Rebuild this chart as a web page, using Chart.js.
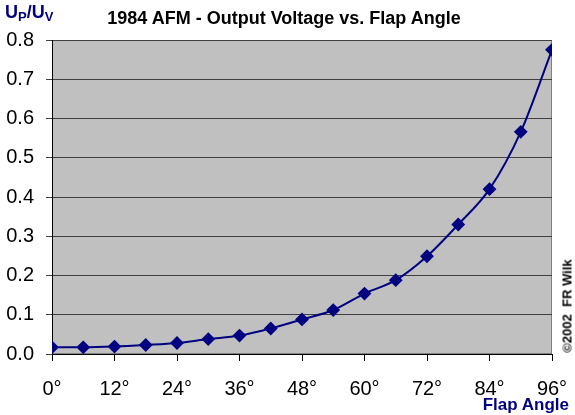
<!DOCTYPE html>
<html lang="en">
<head>
<meta charset="UTF-8">
<title>1984 AFM - Output Voltage vs. Flap Angle</title>
<script src="https://cdn.jsdelivr.net/npm/chart.js"></script>
<style>
  body { margin: 0; background: #fff; }
  #wrap { position: relative; width: 575px; height: 415px; font-family: Arial, "Liberation Sans", sans-serif; }
  canvas { position: absolute; left: 0; top: 0; }
  .txt { position: absolute; white-space: nowrap; }
  #title { left: 0; width: 568px; top: 8px; text-align: center; font-size: 18px; font-weight: bold; color: #000; }
  #ylab { left: 5px; top: 2px; font-size: 18px; font-weight: bold; color: #000080; }
  #ylab sub { font-size: 13px; vertical-align: -3px; }
  #xlab { right: 6px; top: 395px; font-size: 17px; font-weight: bold; color: #000080; }
  #copy { left: 567px; top: 306px; font-size: 13px; font-weight: bold; color: #000; transform: translate(-50%, -50%) rotate(-90deg); }
</style>
</head>
<body>
<div id="wrap">
  <canvas id="myChart" width="575" height="415"></canvas>
  <div class="txt" id="title">1984 AFM - Output Voltage vs. Flap Angle</div>
  <div class="txt" id="ylab">U<sub>P</sub>/U<sub>V</sub></div>
  <div class="txt" id="xlab">Flap Angle</div>
  <div class="txt" id="copy">©2002&nbsp;&nbsp;FR Wilk</div>
</div>
<script>
// angle du volet (degrés) et rapport de tension Up/Uv
const flapAngles = [0, 6, 12, 18, 24, 30, 36, 42, 48, 54, 60, 66, 72, 78, 84, 90, 96];
const voltageRatio = [0.017, 0.017, 0.019, 0.023, 0.028, 0.038, 0.047, 0.065, 0.088, 0.112, 0.154, 0.188, 0.249, 0.330, 0.420, 0.566, 0.775];
const xTicks = [0, 12, 24, 36, 48, 60, 72, 84, 96];
const yTicks = [0, 0.1, 0.2, 0.3, 0.4, 0.5, 0.6, 0.7, 0.8];

const points = flapAngles.map((a, i) => ({ x: a, y: voltageRatio[i] }));

// fond gris de la zone de tracé
const plotBg = {
    id: 'plotBg',
    beforeDraw(chart) {
        const { ctx, chartArea: a } = chart;
        ctx.save();
        ctx.fillStyle = '#c0c0c0';
        ctx.fillRect(a.left, a.top, a.right - a.left, a.bottom - a.top);
        ctx.strokeStyle = '#808080';
        ctx.lineWidth = 1;
        ctx.strokeRect(a.left + 0.5, a.top + 0.5, a.right - a.left - 1, a.bottom - a.top - 1);
        ctx.restore();
    }
};

const font = { family: 'Arial, "Liberation Sans", sans-serif', size: 20 };

new Chart(document.getElementById('myChart').getContext('2d'), {
    type: 'scatter',
    data: {
        datasets: [{
            data: points,
            showLine: true,
            tension: 0.4,
            cubicInterpolationMode: 'monotone',
            borderColor: '#000080',
            backgroundColor: '#000080',
            borderWidth: 2,
            pointStyle: 'rectRot',
            pointRadius: 5.5,
            pointHoverRadius: 5.5
        }]
    },
    options: {
        responsive: false,
        animation: false,
        layout: { padding: { left: 0, top: 40, right: 23, bottom: 0 } },
        plugins: { legend: { display: false }, tooltip: { enabled: false } },
        scales: {
            x: {
                type: 'linear',
                min: 0,
                max: 96,
                afterBuildTicks: s => { s.ticks = xTicks.map(v => ({ value: v })); },
                afterFit: s => { s.height = 61; s.paddingLeft = 0; s.paddingRight = 0; },
                grid: { display: true, drawOnChartArea: false, color: '#000', tickLength: 7 },
                border: { color: '#000' },
                ticks: { color: '#000', font: font, padding: 16, maxRotation: 0, callback: v => v + '°' }
            },
            y: {
                min: 0,
                max: 0.8,
                afterBuildTicks: s => { s.ticks = yTicks.map(v => ({ value: v })); },
                afterFit: s => { s.width = 52; s.paddingTop = 0; s.paddingBottom = 0; },
                grid: { color: '#404040', tickLength: 6 },
                border: { color: '#000' },
                ticks: { color: '#000', font: font, padding: 12, callback: v => v.toFixed(1) }
            }
        }
    },
    plugins: [plotBg]
});
</script>
</body>
</html>
